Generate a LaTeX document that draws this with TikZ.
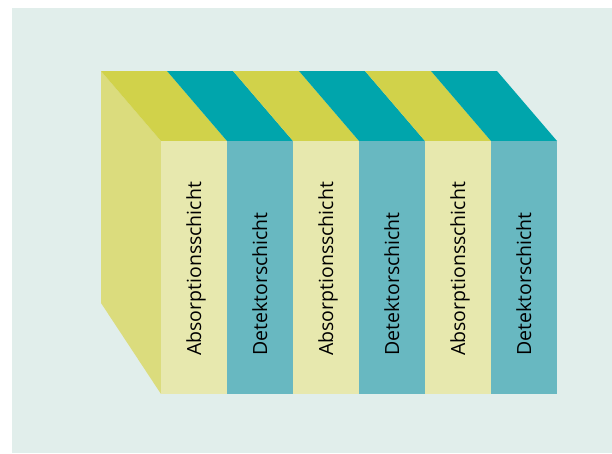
\documentclass[tikz,border=0pt]{standalone}
\usepackage{fontspec}
\setmainfont{Open Sans}
\definecolor{bgc}{RGB}{225,238,235}
\definecolor{topY}{RGB}{209,210,74}
\definecolor{topT}{RGB}{0,165,172}
\definecolor{sideY}{RGB}{219,220,125}
\definecolor{frontY}{RGB}{231,232,174}
\definecolor{frontT}{RGB}{104,184,193}
\begin{document}
\begin{tikzpicture}[x=1pt,y=-1pt,
  layer/.style={rotate=90,anchor=base west,font=\fontsize{19.5}{22}\selectfont,text=black,inner sep=0pt}]
\useasboundingbox (0,0) rectangle (612,453);
\fill[bgc] (12,8) rectangle (612,453);
% left side face
\fill[sideY] (101,71) -- (161,141) -- (161,394) -- (101,303) -- cycle;
% top stripes and front stripes
\foreach \i/\tc/\fc/\lab in {0/topY/frontY/Absorptionsschicht,1/topT/frontT/Detektorschicht,2/topY/frontY/Absorptionsschicht,3/topT/frontT/Detektorschicht,4/topY/frontY/Absorptionsschicht,5/topT/frontT/Detektorschicht}{
  \pgfmathsetmacro{\xa}{101+66*\i}
  \pgfmathsetmacro{\xb}{161+66*\i}
  \fill[\tc] (\xa,71) -- ({\xa+66},71) -- ({\xb+66},141) -- (\xb,141) -- cycle;
  \fill[\fc] (\xb,141) rectangle ({\xb+66},394);
  \node[layer] (L\i) at ({\xb+40},356) {\lab};
}
\end{tikzpicture}
\end{document}
